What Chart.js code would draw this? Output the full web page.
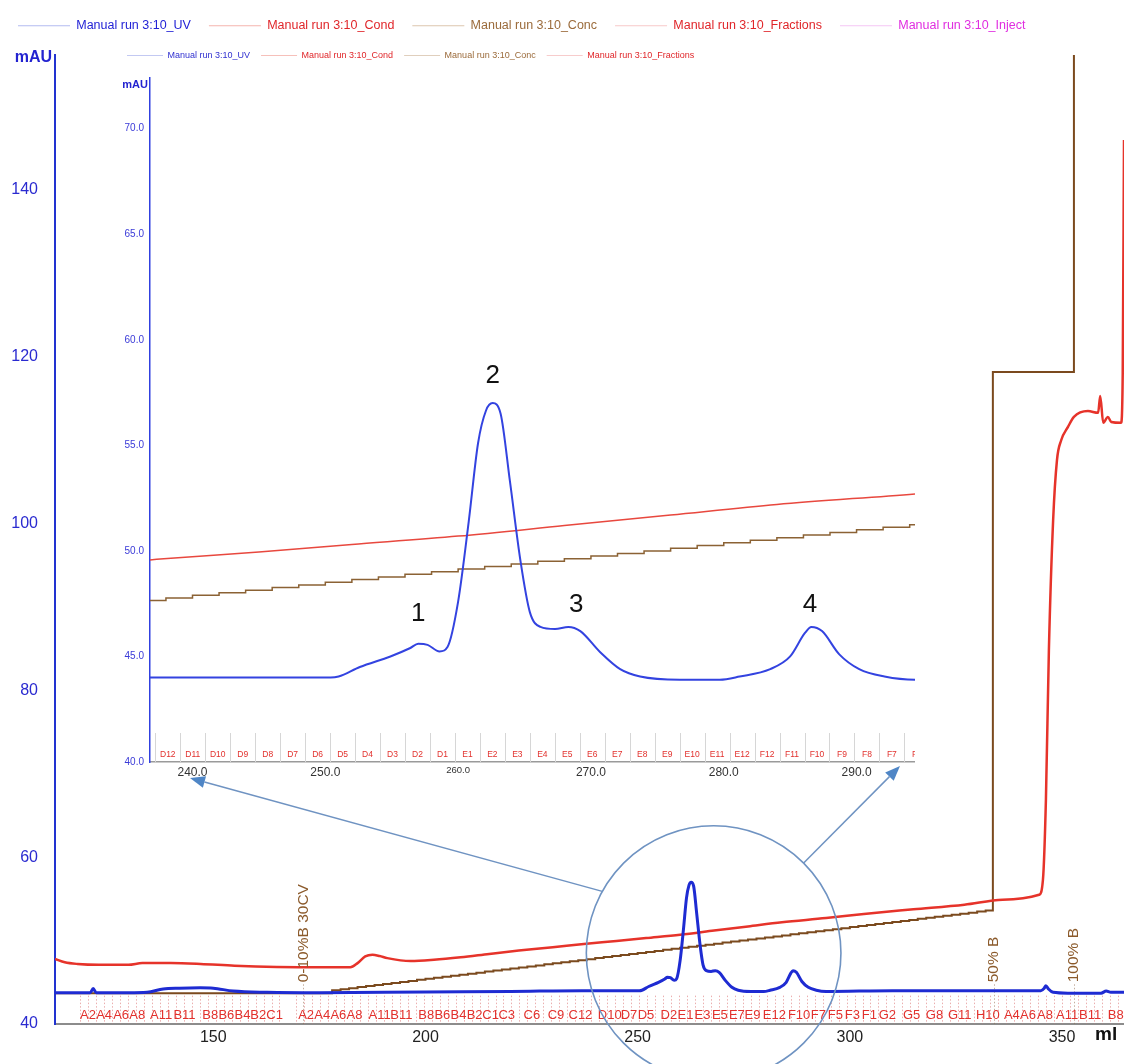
<!DOCTYPE html>
<html><head><meta charset="utf-8">
<script src="https://cdn.jsdelivr.net/npm/chart.js@4/dist/chart.umd.min.js"></script>
<style>
html,body{margin:0;padding:0;background:#fff;}
#wrap{position:relative;width:1124px;height:1064px;overflow:hidden;background:#fff;}
#main{position:absolute;left:0;top:0;}
#inset{position:absolute;left:116px;top:37px;}
</style></head><body>
<div id="wrap"><canvas id="main" width="1124" height="1064"></canvas><canvas id="inset" width="799" height="751"></canvas></div>
<script>
const FONT = '"Liberation Sans", Arial, Helvetica, sans-serif';
Chart.defaults.font.family = FONT;
Chart.defaults.animation = false;

// ---------------- DATA ----------------
const seriesNames = ['Manual run 3:10_UV','Manual run 3:10_Cond','Manual run 3:10_Conc','Manual run 3:10_Fractions','Manual run 3:10_Inject'];

// UV trace (ml, mAU)
const uvMl = [112.7,118.0,121.0,121.7,122.4,130.0,134.4,138.2,142.0,146.9,150.0,154.7,162.7,175.0,200.0,220.0,236.8,250.4,251.0,252.6,254.9,256.4,257.0,257.7,258.6,259.2,260.0,260.8,261.5,262.1,262.6,263.2,263.9,264.7,265.4,266.2,267.3,268.3,269.2,270.7,272.2,273.7,276.7,279.7,281.2,283.5,285.0,286.1,286.6,287.4,288.7,290.2,292.1,294.4,310.0,326.0,345.0,345.8,346.2,346.8,347.9,351.4,359.2,360.4,361.5,364.6];
const uvVal = [43.75,43.75,43.75,44.25,43.75,43.75,43.8,44.2,44.3,44.35,44.3,43.95,43.8,43.75,43.85,43.9,44.0,44.0,44.05,44.5,45.0,45.4,45.6,45.55,45.24,45.45,47.6,51.4,55.1,56.65,57.0,56.5,53.3,49.5,47.1,46.4,46.3,46.4,46.2,45.2,44.4,44.05,43.9,43.9,44.05,44.4,45.0,46.1,46.4,46.2,45.1,44.4,44.05,43.9,44.0,44.0,44.0,44.3,44.6,44.2,43.8,43.7,43.7,43.95,43.8,43.8];

// Conductivity trace (ml, plotted in mAU-axis units)
const condMl = [112.7,115.0,118.0,123.0,130.0,133.3,140.0,147.0,155.0,165.0,175.0,182.3,184.0,185.8,187.5,189.2,191.0,196.5,202.0,208.3,215.0,222.0,230.0,237.3,245.0,252.0,260.0,268.0,276.0,284.0,294.4,303.3,315.0,327.0,336.0,344.6,345.5,346.2,346.9,347.9,348.8,349.8,351.4,352.8,356.1,358.5,359.0,359.7,360.8,361.6,363.9,364.3,364.6];
const condVal = [47.8,47.4,47.2,47.1,47.1,47.3,47.3,47.2,47.0,46.85,46.8,46.8,47.3,48.1,48.3,48.15,47.9,47.55,47.7,48.0,48.4,48.8,49.2,49.6,49.95,50.3,50.7,51.2,51.7,52.2,52.7,53.2,53.75,54.3,54.9,55.5,57.3,66.9,84.8,100.4,107.6,110.0,111.6,112.8,113.5,113.3,115.3,112.1,112.8,112.2,112.1,118.0,146.0];

// Concentration (%B) trace, stepped (ml, plotted in mAU-axis units)
const concMl = [112.7,178,180,182,184,186,188,190,192,194,196,198,200,202,204,206,208,210,212,214,216,218,220,222,224,226,228,230,232,234,236,238,240,242,244,246,248,250,252,254,256,258,260,262,264,266,268,270,272,274,276,278,280,282,284,286,288,290,292,294,296,298,300,302,304,306,308,310,312,314,316,318,320,322,324,326,328,330,332,333.7,352.8];
const concVal = [43.7,44.05,44.18,44.30,44.43,44.55,44.67,44.80,44.92,45.05,45.17,45.30,45.42,45.54,45.67,45.79,45.92,46.04,46.16,46.29,46.41,46.54,46.66,46.78,46.91,47.03,47.16,47.28,47.40,47.53,47.65,47.77,47.90,48.02,48.14,48.27,48.39,48.52,48.64,48.76,48.89,49.01,49.14,49.26,49.38,49.51,49.63,49.76,49.88,50.00,50.13,50.25,50.38,50.50,50.62,50.75,50.87,51.00,51.12,51.24,51.37,51.49,51.62,51.74,51.86,51.99,52.11,52.24,52.36,52.48,52.61,52.73,52.86,52.98,53.10,53.23,53.35,53.48,53.60,118.2,160.0];

// Axes / ticks
const xTicksMain = [150,200,250,300,350];
const yTicksMain = [40,60,80,100,120,140];
const xTicksInset = [240,250,260,270,280,290];
const yTicksInset = [40,45,50,55,60,65,70];

// Fraction labels on the main chart (label, start ml)
const fracLabelsMain = ['A2','A4','A6','A8','A11','B11','B8','B6','B4','B2','C1','A2','A4','A6','A8','A11','B11','B8','B6','B4','B2','C1','C3','C6','C9','C12','D10','D7','D5','D2','E1','E3','E5','E7','E9','E12','F10','F7','F5','F3','F1','G2','G5','G8','G11','H10','A4','A6','A8','A11','B11','B8'];
const fracLabelMl = [118.6,122.4,126.4,130.2,135.1,140.6,147.4,151.2,155.0,158.7,162.5,170.0,173.8,177.6,181.4,186.6,191.7,198.3,202.1,205.9,209.7,213.4,217.2,223.1,228.8,233.7,240.6,246.0,250.0,255.4,259.4,263.4,267.5,271.5,275.2,279.5,285.4,290.8,294.8,298.8,302.8,306.8,312.5,317.9,323.1,329.7,336.3,340.1,344.1,348.6,354.0,360.8];
const fracRunStart = [118.6,169.5];
const fracRunEnd = [166.3,364.6];
const fracSize = 1.88;

// Fractions in the inset
const fracInsetNames = ['D12','D11','D10','D9','D8','D7','D6','D5','D4','D3','D2','D1','E1','E2','E3','E4','E5','E6','E7','E8','E9','E10','E11','E12','F12','F11','F10','F9','F8','F7','F6'];
const fracInsetStart = 237.2;

// Gradient annotations (text, ml)
const gradTexts = ['0-10%B 30CV','50% B','100% B'];
const gradMl = [171.2,334.0,352.8];

// Peak numbers in inset (text, ml, value)
const peakLabels = ['1','2','3','4'];
const peakLabelMl = [257.0,262.6,268.9,286.5];
const peakLabelVal = [47.0,58.3,47.45,47.45];

// ---------------- HELPERS ----------------
function pts(xs, ys){ return xs.map((v,i)=>({x:v, y:ys[i]})); }
function legendItems(chart){
  return chart.data.datasets.map((ds,i)=>({
    text: ds.label, fillStyle: ds.legendLine, strokeStyle: ds.legendLine, lineWidth: 0,
    fontColor: ds.legendText, hidden: false, datasetIndex: i
  }));
}
function legendShift(dy){
  return { id:'legendShift', afterLayout(chart){ if(chart.legend){ chart.legend.top += dy; chart.legend.bottom += dy; } } };
}
function arrow(ctx, x0, y0, x1, y1){
  const ang = Math.atan2(y1-y0, x1-x0), L = 15, W = 6;
  const bx = x1 - L*Math.cos(ang), by = y1 - L*Math.sin(ang);
  ctx.beginPath(); ctx.moveTo(x0,y0); ctx.lineTo(bx,by); ctx.stroke();
  ctx.beginPath(); ctx.moveTo(x1,y1);
  ctx.lineTo(bx + W*Math.sin(ang), by - W*Math.cos(ang));
  ctx.lineTo(bx - W*Math.sin(ang), by + W*Math.cos(ang));
  ctx.closePath(); ctx.fill();
}
const ARROW_TIPS = [[190,778],[900,766]];
const CIRCLE = {ml:267.9, val:48.5, rMl:30, angles:[209,315]};

const mainDecor = {
  id:'mainDecor',
  beforeDatasetsDraw(chart){
    const {ctx, chartArea:a, scales:{x,y}} = chart;
    ctx.save();
    ctx.beginPath(); ctx.rect(a.left, 0, a.right-a.left, chart.height); ctx.clip();
    ctx.strokeStyle = 'rgba(222,120,120,0.6)'; ctx.lineWidth = 1; ctx.setLineDash([1.5,2]);
    const yTop = y.getPixelForValue(43.4);
    fracRunStart.forEach((s,k)=>{
      for(let v=s; v<=fracRunEnd[k]+1e-6; v+=fracSize){
        const px = Math.round(x.getPixelForValue(v))+0.5;
        ctx.beginPath(); ctx.moveTo(px,yTop); ctx.lineTo(px,a.bottom); ctx.stroke();
      }
    });
    ctx.strokeStyle = 'rgba(150,110,80,0.55)';
    const yb = y.getPixelForValue(45.0);
    gradMl.forEach(v=>{
      const px = Math.round(x.getPixelForValue(v))+0.5;
      ctx.beginPath(); ctx.moveTo(px,yb+2); ctx.lineTo(px,a.bottom); ctx.stroke();
    });
    ctx.setLineDash([]);
    ctx.fillStyle = '#e2312d'; ctx.font = '13px '+FONT; ctx.textAlign='left'; ctx.textBaseline='middle';
    fracLabelsMain.forEach((t,i)=> ctx.fillText(t, x.getPixelForValue(fracLabelMl[i]), a.bottom-9));
    ctx.restore();
  },
  afterDatasetsDraw(chart){
    const {ctx, chartArea:a, scales:{x,y}} = chart;
    ctx.save();
    ctx.fillStyle = '#8b5a2b'; ctx.font = '15.5px '+FONT; ctx.textAlign='left'; ctx.textBaseline='middle';
    const yb = y.getPixelForValue(45.0);
    gradTexts.forEach((t,i)=>{
      ctx.save(); ctx.translate(x.getPixelForValue(gradMl[i]), yb); ctx.rotate(-Math.PI/2);
      ctx.fillText(t, 0, 0); ctx.restore();
    });
    const cx = x.getPixelForValue(CIRCLE.ml), cy = y.getPixelForValue(CIRCLE.val);
    const r = x.getPixelForValue(CIRCLE.ml + CIRCLE.rMl) - cx;
    ctx.strokeStyle = '#6f93c2'; ctx.lineWidth = 1.6;
    ctx.beginPath(); ctx.arc(cx, cy, r, 0, Math.PI*2); ctx.stroke();
    ctx.fillStyle = '#4f86c6'; ctx.lineWidth = 1.5;
    CIRCLE.angles.forEach((deg,i)=>{
      const t = deg*Math.PI/180;
      arrow(ctx, cx + r*Math.cos(t), cy + r*Math.sin(t), ARROW_TIPS[i][0], ARROW_TIPS[i][1]);
    });
    ctx.restore();
  },
  afterDraw(chart){
    const {ctx, chartArea:a} = chart;
    ctx.save();
    ctx.font = 'bold 16px '+FONT; ctx.fillStyle = '#2323d0'; ctx.textAlign='right'; ctx.textBaseline='middle';
    ctx.fillText('mAU', a.left-3, a.top+3);
    ctx.font = 'bold 19px '+FONT; ctx.fillStyle = '#111'; ctx.textAlign='left';
    ctx.fillText('ml', a.right-29, a.bottom+11);
    ctx.restore();
  }
};

const insetDecor = {
  id:'insetDecor',
  beforeDatasetsDraw(chart){
    const {ctx, chartArea:a, scales:{x}} = chart;
    ctx.save();
    ctx.beginPath(); ctx.rect(a.left, 0, a.right-a.left+2, chart.height); ctx.clip();
    ctx.strokeStyle = '#d6d6d6'; ctx.lineWidth = 1;
    for(let i=0;i<=fracInsetNames.length;i++){
      const px = Math.round(x.getPixelForValue(fracInsetStart + i*fracSize))+0.5;
      ctx.beginPath(); ctx.moveTo(px, a.bottom-29); ctx.lineTo(px, a.bottom); ctx.stroke();
    }
    ctx.fillStyle = '#e2312d'; ctx.font = '8.5px '+FONT; ctx.textAlign='center'; ctx.textBaseline='middle';
    fracInsetNames.forEach((t,i)=> ctx.fillText(t, x.getPixelForValue(fracInsetStart + (i+0.5)*fracSize), a.bottom-7));
    ctx.restore();
  },
  afterDatasetsDraw(chart){
    const {ctx, scales:{x,y}} = chart;
    ctx.save();
    ctx.fillStyle = '#111'; ctx.font = '26px '+FONT; ctx.textAlign='center'; ctx.textBaseline='middle';
    peakLabels.forEach((t,i)=> ctx.fillText(t, x.getPixelForValue(peakLabelMl[i]), y.getPixelForValue(peakLabelVal[i])));
    ctx.restore();
  },
  afterDraw(chart){
    const {ctx, chartArea:a} = chart;
    ctx.save();
    ctx.font = 'bold 11px '+FONT; ctx.fillStyle = '#2323d0'; ctx.textAlign='right'; ctx.textBaseline='middle';
    ctx.fillText('mAU', a.left-2, a.top+7);
    ctx.restore();
  }
};

// ---------------- MAIN CHART ----------------
new Chart(document.getElementById('main'), {
  type:'line',
  data:{ datasets:[
    {label:seriesNames[0], data:pts(uvMl,uvVal), borderColor:'#1e2bd2', borderWidth:3, pointRadius:0, cubicInterpolationMode:'monotone', legendLine:'#b3bbf0', legendText:'#2323d6'},
    {label:seriesNames[1], data:pts(condMl,condVal), borderColor:'#e6332a', borderWidth:2.5, pointRadius:0, cubicInterpolationMode:'monotone', legendLine:'#f5b5ae', legendText:'#e0262a'},
    {label:seriesNames[2], data:pts(concMl,concVal), borderColor:'#7b4a1e', borderWidth:2, pointRadius:0, stepped:true, legendLine:'#dcc6ae', legendText:'#9b6b3b'},
    {label:seriesNames[3], data:[], borderColor:'#e0262a', pointRadius:0, legendLine:'#f7c9c9', legendText:'#e0262a'},
    {label:seriesNames[4], data:[], borderColor:'#e030e0', pointRadius:0, legendLine:'#f5c6f5', legendText:'#e02ee0'}
  ]},
  options:{
    responsive:false, devicePixelRatio:1, animation:false,
    layout:{padding:0},
    plugins:{
      legend:{position:'top', align:'start', labels:{boxWidth:52, boxHeight:1, padding:18, font:{size:12.5}, generateLabels:legendItems}},
      tooltip:{enabled:false}
    },
    scales:{
      x:{type:'linear', min:112.7, max:364.6,
        afterBuildTicks:s=>{ s.ticks = xTicksMain.map(v=>({value:v})); },
        afterFit:s=>{ s.height = 40; s.paddingLeft = 0; s.paddingRight = 0; },
        grid:{display:false, drawTicks:false},
        border:{display:true, color:'#8c8c8c', width:2, dash:[8,7]},
        ticks:{color:'#222', font:{size:16}, padding:4, maxRotation:0, autoSkip:false}
      },
      y:{type:'linear', min:40, max:156.2,
        afterBuildTicks:s=>{ s.ticks = yTicksMain.map(v=>({value:v})); },
        afterFit:s=>{ s.width = 55; s.paddingTop = 55; s.paddingBottom = 0; },
        grid:{display:false, drawTicks:false},
        border:{display:true, color:'#2233d0', width:2},
        ticks:{color:'#2a2ad0', font:{size:16}, padding:17}
      }
    }
  },
  plugins:[mainDecor, legendShift(-13)]
});

// ---------------- INSET CHART ----------------
new Chart(document.getElementById('inset'), {
  type:'line',
  data:{ datasets:[
    {label:seriesNames[0], data:pts(uvMl,uvVal), borderColor:'#3343e0', borderWidth:2, pointRadius:0, cubicInterpolationMode:'monotone', legendLine:'#c3c9f2', legendText:'#3030d0'},
    {label:seriesNames[1], data:pts(condMl,condVal), borderColor:'#e8483e', borderWidth:1.5, pointRadius:0, cubicInterpolationMode:'monotone', legendLine:'#f6c0ba', legendText:'#e0262a'},
    {label:seriesNames[2], data:pts(concMl,concVal), borderColor:'#8b6234', borderWidth:1.5, pointRadius:0, stepped:true, legendLine:'#e0cfbd', legendText:'#9b6b3b'},
    {label:seriesNames[3], data:[], borderColor:'#e0262a', pointRadius:0, legendLine:'#f7cccc', legendText:'#e0262a'}
  ]},
  options:{
    responsive:false, devicePixelRatio:1, animation:false,
    layout:{padding:0},
    plugins:{
      legend:{position:'top', align:'start', labels:{boxWidth:36, boxHeight:1, padding:11, font:{size:9}, generateLabels:legendItems}},
      tooltip:{enabled:false}
    },
    scales:{
      x:{type:'linear', min:236.8, max:294.4,
        afterBuildTicks:s=>{ s.ticks = xTicksInset.map(v=>({value:v})); },
        afterFit:s=>{ s.height = 26; s.paddingLeft = 0; s.paddingRight = 0; },
        grid:{display:false, drawTicks:false},
        border:{display:true, color:'#9a9a9a', width:1.5, dash:[7,5]},
        ticks:{color:'#333', padding:3, maxRotation:0, autoSkip:false,
          font:(c)=>({size:(c.tick && c.tick.value===260) ? 9.5 : 12, family:FONT}),
          callback:v=>Number(v).toFixed(1)}
      },
      y:{type:'linear', min:40, max:72.4,
        afterBuildTicks:s=>{ s.ticks = yTicksInset.map(v=>({value:v})); },
        afterFit:s=>{ s.width = 34; s.paddingTop = 41; s.paddingBottom = 0; },
        grid:{display:false, drawTicks:false},
        border:{display:true, color:'#3040e0', width:1.5},
        ticks:{color:'#3a3ad8', font:{size:10}, padding:6, callback:v=>Number(v).toFixed(1)}
      }
    }
  },
  plugins:[insetDecor, legendShift(-8)]
});
</script>
</body></html>
